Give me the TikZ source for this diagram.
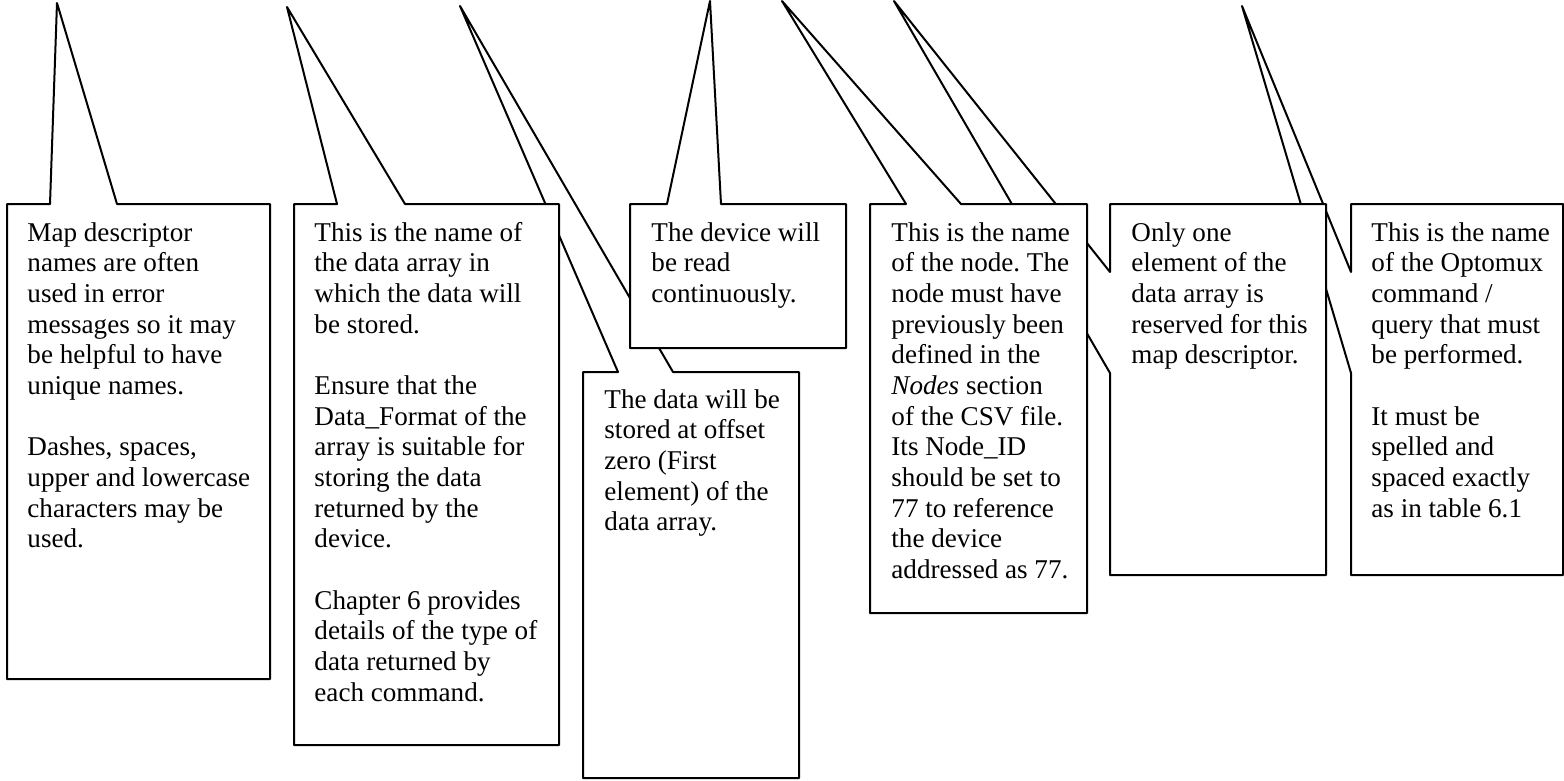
\documentclass[tikz,border=0pt]{standalone}
\usepackage{fontspec}
\setmainfont{Liberation Serif}
\frenchspacing
\tikzset{
  callout/.style={draw=black, fill=white, line width=0.9pt, line join=round},
  txt/.style={anchor=base west, inner sep=0pt, font=\fontsize{12.2}{13.8}\selectfont}
}
\newcommand{\lines}[1]{\begin{tabular}[t]{@{}l@{}}#1\end{tabular}}
\begin{document}
\begin{tikzpicture}[x=0.45pt, y=-0.45pt]
\useasboundingbox (0,0) rectangle (1564,780);
\fill[white] (0,0) rectangle (1564,780);

% tips of the callouts
\coordinate (tip1) at (57,3);
\coordinate (tip2) at (287,7);
\coordinate (tip3) at (460,6);
\coordinate (tip4) at (710,1);
\coordinate (tip5) at (782,1);
\coordinate (tip6) at (894,1);
\coordinate (tip7) at (1242,6);

% callout 7
\draw[callout] (1351,204) -- (1563,204) -- (1563,575) -- (1351,575) -- (1351,373) -- (tip7) -- (1351,272) -- cycle;
\node[txt] (t7) at (1371,241) {\lines{This is the name\\of the Optomux\\command /\\query that must\\be performed.\\ \\It must be\\spelled and\\spaced exactly\\as in table 6.1}};

% callout 6
\draw[callout] (1110,204) -- (1326,204) -- (1326,575) -- (1110,575) -- (1110,373) -- (tip6) -- (1110,272) -- cycle;
\node[txt] (t6) at (1131,241) {\lines{Only one\\element of the\\data array is\\reserved for this\\map descriptor.}};

% callout 5
\draw[callout] (870,204) -- (906,204) -- (tip5) -- (961,204) -- (1087,204) -- (1087,613) -- (870,613) -- cycle;
\node[txt] (t5) at (891,241) {\lines{This is the name\\of the node. The\\node must have\\previously been\\defined in the\\\textit{Nodes} section\\of the CSV file.\\Its Node\_ID\\should be set to\\77 to reference\\the device\\addressed as 77.}};

% callout 3
\draw[callout] (583,372) -- (618,372) -- (tip3) -- (673,372) -- (799,372) -- (799,778) -- (583,778) -- cycle;
\node[txt] (t3) at (604,408) {\lines{The data will be\\stored at offset\\zero (First\\element) of the\\data array.}};

% callout 4
\draw[callout] (630,204) -- (667,204) -- (tip4) -- (721,204) -- (846,204) -- (846,348) -- (630,348) -- cycle;
\node[txt] (t4) at (651,241) {\lines{The device will\\be read\\continuously.}};

% callout 2
\draw[callout] (294,204) -- (337,204) -- (tip2) -- (405,204) -- (559,204) -- (559,745) -- (294,745) -- cycle;
\node[txt] (t2) at (314,241) {\lines{This is the name of\\the data array in\\which the data will\\be stored.\\ \\Ensure that the\\Data\_Format of the\\array is suitable for\\storing the data\\returned by the\\device.\\ \\Chapter 6 provides\\details of the type of\\data returned by\\each command.}};

% callout 1
\draw[callout] (7,204) -- (50,204) -- (tip1) -- (117,204) -- (270,204) -- (270,679) -- (7,679) -- cycle;
\node[txt] (t1) at (27,241) {\lines{Map descriptor\\names are often\\used in error\\messages so it may\\be helpful to have\\unique names.\\ \\Dashes, spaces,\\upper and lowercase\\characters may be\\used.}};
\end{tikzpicture}
\end{document}
